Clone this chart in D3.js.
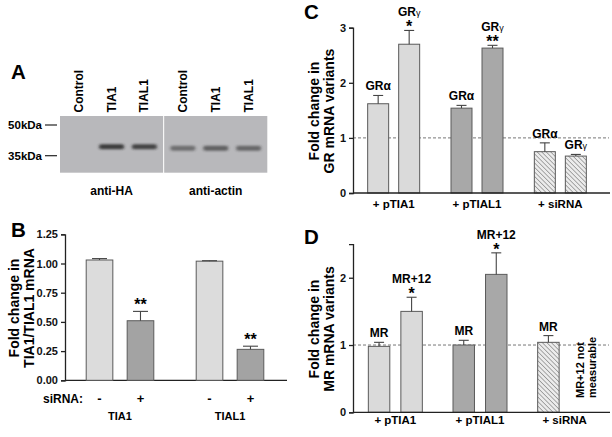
<!DOCTYPE html>
<html>
<head>
<meta charset="utf-8">
<script src="https://cdn.jsdelivr.net/npm/d3@7"></script>
<style>
  body { margin: 0; background: #fff; }
  svg { font-family: "Liberation Sans", Arial, sans-serif; font-weight: bold; }
</style>
</head>
<body>
<svg id="fig" width="612" height="437"></svg>
<script>
// ---- panel A: blot lanes and band strength (0 = no band)
var lanes = ["Control", "TIA1", "TIAL1"];
var bandHA = [0, 0.85, 0.8];
var bandActin = [0.5, 0.6, 0.55];
var blotNames = ["anti-HA", "anti-actin"];
var markers = ["50kDa", "35kDa"];

// ---- panel B
var bGenes = ["TIA1", "TIAL1"];
var bSirna = ["-", "+"];
var bValues = [[1.03, 0.51], [1.02, 0.265]];
var bErrors = [[0.012, 0.08], [0.004, 0.027]];
var bStars = [["", "**"], ["", "**"]];
var bTicks = [0, 0.25, 0.5, 0.75, 1.0, 1.25];

// ---- panel C
var cGroups = ["+ pTIA1", "+ pTIAL1", "+ siRNA"];
var cLabels = [["GRα", "GRγ"], ["GRα", "GRγ"], ["GRα", "GRγ"]];
var cValues = [[1.62, 2.70], [1.54, 2.63], [0.75, 0.67]];
var cErrors = [[0.15, 0.25], [0.05, 0.05], [0.16, 0.03]];
var cStars = [["", "*"], ["", "**"], ["", ""]];
var cTicks = [0, 1, 2, 3];

// ---- panel D
var dGroups = ["+ pTIA1", "+ pTIAL1", "+ siRNA"];
var dLabels = [["MR", "MR+12"], ["MR", "MR+12"], ["MR", null]];
var dValues = [[0.98, 1.50], [1.00, 2.05], [1.04, null]];
var dErrors = [[0.06, 0.21], [0.07, 0.32], [0.10, null]];
var dStars = [["", "*"], ["", "*"], ["", ""]];
var dTicks = [0, 1, 2];

var svg = d3.select("#fig");

var defs = svg.append("defs");
var hatch = defs.append("pattern").attr("id", "hatch")
  .attr("patternUnits", "userSpaceOnUse").attr("width", 3.2).attr("height", 3.2)
  .attr("patternTransform", "rotate(-45)");
hatch.append("rect").attr("width", 3.2).attr("height", 3.2).attr("fill", "#ececec");
hatch.append("line").attr("x1", 0).attr("y1", 0).attr("x2", 0).attr("y2", 3.2)
  .attr("stroke", "#8a8a8a").attr("stroke-width", 1.4);
defs.append("filter").attr("id", "blur").attr("x", "-30%").attr("y", "-100%")
  .attr("width", "160%").attr("height", "300%")
  .append("feGaussianBlur").attr("stdDeviation", "1.8 1.3");

function letter(t, x, y) {
  svg.append("text").attr("x", x).attr("y", y).attr("font-size", 20.5).text(t);
}

// ================= A =================
letter("A", 11, 79);
var blotTop = 116, blotBot = 172.7;
var blotX = d3.scaleBand().domain(blotNames).range([60, 267.3]).paddingInner(0.01);
var laneX = d3.scaleBand().domain(lanes).paddingInner(0.06).paddingOuter(0.1);
var bandSets = [bandHA, bandActin];
var bandY = [146.7, 148.3];

blotNames.forEach(function(name, i) {
  var x0 = blotX(name), w = blotX.bandwidth();
  laneX.range([x0, x0 + w]);
  var g = svg.append("g");
  g.append("rect").attr("x", x0).attr("y", blotTop).attr("width", w)
    .attr("height", blotBot - blotTop).attr("fill", "#b8b8bb");
  g.selectAll("rect.band").data(bandSets[i]).enter().append("rect")
    .attr("class", "band")
    .attr("x", function(d, j) { return laneX(lanes[j]) + 3; })
    .attr("width", laneX.bandwidth() - 6)
    .attr("y", bandY[i] - 2.5).attr("height", 5).attr("rx", 2)
    .attr("fill", "#262626")
    .attr("opacity", function(d) { return d; })
    .attr("filter", "url(#blur)");
  g.selectAll("text.lane").data(lanes).enter().append("text")
    .attr("class", "lane")
    .attr("transform", function(d) {
      return "translate(" + (laneX(d) + laneX.bandwidth() / 2 + 4) + ",112.5) rotate(-90)";
    })
    .attr("font-size", 12).text(function(d) { return d; });
  g.append("text").attr("x", x0 + w / 2).attr("y", 195).attr("text-anchor", "middle")
    .attr("font-size", 12).text(name);
});
var markerY = d3.scalePoint().domain(markers).range([125, 155.7]);
markers.forEach(function(m) {
  svg.append("text").attr("x", 42).attr("y", markerY(m) + 4).attr("text-anchor", "end")
    .attr("font-size", 11.5).text(m);
  svg.append("line").attr("x1", 45).attr("x2", 57).attr("y1", markerY(m)).attr("y2", markerY(m))
    .attr("stroke", "#222").attr("stroke-width", 1.2);
});

// ================= shared bar drawing =================
function drawBars(p) {
  var g = svg.append("g");
  p.groups.forEach(function(grp, gi) {
    p.values[gi].forEach(function(v, k) {
      if (v == null) return;
      var x = p.x0(grp) + p.x0.bandwidth() / 2 + p.x1(k);
      var w = p.x1.bandwidth();
      var fill = p.fills(gi, k);
      g.append("rect").attr("x", x).attr("y", p.y(v)).attr("width", w)
        .attr("height", p.y(0) - p.y(v)).attr("fill", fill)
        .attr("stroke", "#5a5a5a").attr("stroke-width", 1);
      var top = p.y(v + p.errors[gi][k]);
      var cx = x + w / 2;
      g.append("line").attr("x1", cx).attr("x2", cx).attr("y1", p.y(v)).attr("y2", top)
        .attr("stroke", "#444").attr("stroke-width", 1.1);
      g.append("line").attr("x1", cx - p.cap / 2).attr("x2", cx + p.cap / 2)
        .attr("y1", top).attr("y2", top).attr("stroke", "#444").attr("stroke-width", 1.1);
      var star = p.stars[gi][k];
      var labY = top - 5;
      if (star) {
        g.append("text").attr("x", cx).attr("y", top + p.starDy).attr("text-anchor", "middle")
          .attr("font-size", 16).text(star);
        labY = top - 14;
      }
      if (p.labels && p.labels[gi][k]) {
        var t = g.append("text").attr("x", cx).attr("y", labY).attr("text-anchor", "middle")
          .attr("font-size", 12);
        var lab = p.labels[gi][k];
        if (lab.slice(-1) == "γ") {
          t.append("tspan").text(lab.slice(0, -1));
          t.append("tspan").attr("font-size", 9).attr("font-weight", "normal").text("γ");
        } else t.text(lab);
      }
    });
  });
}

function yAxis(y, ticks, fmt, x) {
  var ax = svg.append("g").attr("transform", "translate(" + x + ",0)")
    .call(d3.axisLeft(y).tickValues(ticks).tickFormat(fmt).tickSize(4).tickPadding(3));
  ax.select(".domain").attr("stroke", "#222").attr("stroke-width", 1.3);
  ax.selectAll(".tick line").attr("stroke", "#222").attr("stroke-width", 1.3);
  ax.selectAll("text").attr("font-size", 11).attr("font-family", "Liberation Sans, Arial")
    .attr("font-weight", "bold").attr("fill", "#111");
  return ax;
}

function yTitle(lines, x, yc) {
  var t = svg.append("text").attr("transform", "translate(" + x + "," + yc + ") rotate(-90)")
    .attr("text-anchor", "middle").attr("font-size", 14);
  lines.forEach(function(l, i) {
    t.append("tspan").attr("x", 0).attr("dy", i == 0 ? 0 : 14.5).text(l);
  });
}

// ================= B =================
letter("B", 11, 237);
var yB = d3.scaleLinear().domain([0, 1.25]).range([380.3, 234.3]);
var x0B = d3.scaleBand().domain(bGenes).range([65, 285]);
var x1B = d3.scaleBand().domain([0, 1]).range([-33.8, 33.8]).paddingInner(0.35);
yAxis(yB, bTicks, d3.format(".2f"), 65);
svg.append("line").attr("x1", 65).attr("x2", 287).attr("y1", yB(0)).attr("y2", yB(0))
  .attr("stroke", "#222").attr("stroke-width", 1.3);
drawBars({ groups: bGenes, values: bValues, errors: bErrors, stars: bStars,
  x0: x0B, x1: x1B, y: yB, cap: 15, starDy: -1,
  fills: function(gi, k) { return k == 0 ? "#dcdcdc" : "#a3a3a3"; } });
yTitle(["Fold change in", "TIA1/TIAL1 mRNA"], 19, 308);
svg.append("text").attr("x", 43).attr("y", 403).attr("font-size", 12).text("siRNA:");
bGenes.forEach(function(gname) {
  bSirna.forEach(function(s, k) {
    svg.append("text").attr("x", x0B(gname) + x0B.bandwidth() / 2 + x1B(k) + x1B.bandwidth() / 2)
      .attr("y", 403).attr("text-anchor", "middle").attr("font-size", 13).text(s);
  });
  svg.append("text").attr("x", x0B(gname) + x0B.bandwidth() / 2).attr("y", 420)
    .attr("text-anchor", "middle").attr("font-size", 11).text(gname);
});

// ================= C =================
letter("C", 304, 19);
var yC = d3.scaleLinear().domain([0, 3]).range([193, 27.7]);
var x0C = d3.scaleBand().domain(cGroups).range([352, 602]);
var x1C = d3.scaleBand().domain([0, 1]).range([-26, 26]).paddingInner(0.323);
function dashed(y, x1, x2) {
  svg.append("line").attr("x1", x1).attr("x2", x2).attr("y1", y).attr("y2", y)
    .attr("stroke", "#777").attr("stroke-width", 1).attr("stroke-dasharray", "3,2");
}
dashed(yC(1), 353, 609);
var groupFill = function(gi) { return ["#dadada", "#a8a8a8", "url(#hatch)"][gi]; };
drawBars({ groups: cGroups, values: cValues, errors: cErrors, stars: cStars, labels: cLabels,
  x0: x0C, x1: x1C, y: yC, cap: 10, starDy: 2,
  fills: function(gi) { return groupFill(gi); } });
yAxis(yC, cTicks, d3.format("d"), 353);
svg.append("line").attr("x1", 353).attr("x2", 610).attr("y1", yC(0)).attr("y2", yC(0))
  .attr("stroke", "#222").attr("stroke-width", 1.3);
yTitle(["Fold change in", "GR mRNA variants"], 319, 111);
cGroups.forEach(function(gname) {
  svg.append("text").attr("x", x0C(gname) + x0C.bandwidth() / 2).attr("y", 208)
    .attr("text-anchor", "middle").attr("font-size", 11.5).text(gname);
});

// ================= D =================
letter("D", 304, 244);
var yD = d3.scaleLinear().domain([0, 2.5]).range([412.3, 244.1]);
var x0D = d3.scaleBand().domain(dGroups).range([353, 607]);
var x1D = d3.scaleBand().domain([0, 1]).range([-27, 27]).paddingInner(0.34);
dashed(yD(1), 353, 609);
drawBars({ groups: dGroups, values: dValues, errors: dErrors, stars: dStars, labels: dLabels,
  x0: x0D, x1: x1D, y: yD, cap: 10, starDy: 2,
  fills: function(gi) { return groupFill(gi); } });
yAxis(yD, dTicks, d3.format("d"), 353);
svg.append("line").attr("x1", 353).attr("x2", 610).attr("y1", yD(0)).attr("y2", yD(0))
  .attr("stroke", "#222").attr("stroke-width", 1.3);
yTitle(["Fold change in", "MR mRNA variants"], 319, 329);
dGroups.forEach(function(gname) {
  svg.append("text").attr("x", x0D(gname) + x0D.bandwidth() / 2).attr("y", 424)
    .attr("text-anchor", "middle").attr("font-size", 11.5).text(gname);
});
// missing MR+12 bar for siRNA
var nmX = x0D("+ siRNA") + x0D.bandwidth() / 2 + x1D(1) + x1D.bandwidth() / 2;
var nm = svg.append("text").attr("transform", "translate(" + (nmX + 5) + ",398) rotate(-90)")
  .attr("font-size", 11);
nm.append("tspan").attr("x", 0).attr("dy", -2).text("MR+12  not");
nm.append("tspan").attr("x", 0).attr("dy", 12).text("measurable");
</script>
</body>
</html>
